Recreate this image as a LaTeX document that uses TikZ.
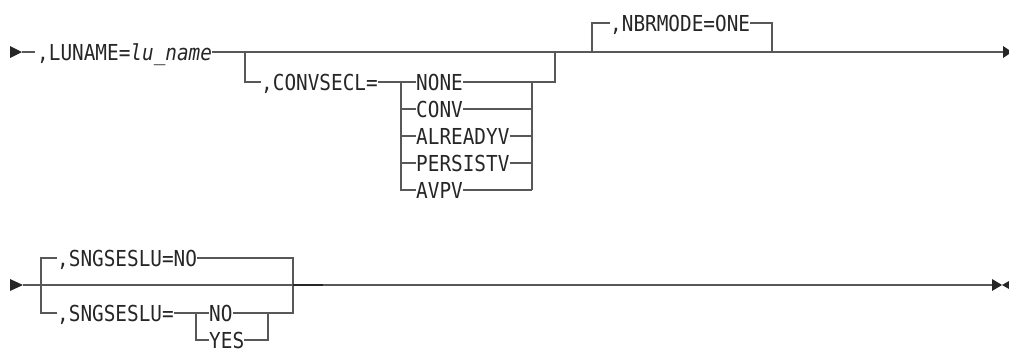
\documentclass[tikz,border=0pt]{standalone}
\usepackage{fontspec}
\newfontfamily\synfont[FakeStretch=0.88]{DejaVu Sans Mono}
\usetikzlibrary{calc}
\definecolor{railgray}{RGB}{88,88,88}
\definecolor{ink}{RGB}{38,38,38}

\begin{document}
\begin{tikzpicture}[
  x=1pt, y=-1pt,
  font=\synfont\fontsize{22pt}{24pt}\selectfont,
  rail/.style={draw=railgray, line width=1.3pt},
  kw/.style={anchor=west, inner sep=0pt, text height=16pt, text depth=0pt, text=ink},
  tip/.style={fill=ink}]
  \useasboundingbox (0,0) rectangle (1009,348);
  % first line
  \coordinate (s1) at (22,52);
  \node[kw] (lu) at (37,52) {,LUNAME=\textit{lu\_name}};
  \coordinate (b1) at (245,52);
  \coordinate (b2) at (555,52);
  \coordinate (n1) at (592,52);
  \coordinate (n2) at (772,52);
  \coordinate (e1) at (1003,52);
  \node[kw] (conv) at (261,82) {,CONVSECL=};
  \coordinate (c1) at (401,82);
  \coordinate (c2) at (532,82);
  \foreach \nm/\yy in {NONE/82, CONV/109, ALREADYV/136, PERSISTV/163, AVPV/190}
    \node[kw] (\nm) at (416,\yy) {\nm};
  \node[kw] (nbr) at (610,23) {,NBRMODE=ONE};
  \fill[tip] (10,46) -- (22,52) -- (10,58) -- cycle;
  \draw[rail] (s1) -- ([xshift=-2pt]lu.west);
  \draw[rail] (lu.east) -- (e1);
  \draw[rail] (b1) |- (conv.west);
  \draw[rail] (conv.east) -- (c1) |- (AVPV.west);
  \foreach \nm in {NONE, CONV, ALREADYV, PERSISTV, AVPV} {
    \draw[rail] (c1 |- \nm.west) -- (\nm.west);
    \draw[rail] (\nm.east) -- (c2 |- \nm.east);
  }
  \draw[rail] (c2 |- AVPV.east) -- (c2) -| (b2);
  \draw[rail] (n1) |- (nbr.west);
  \draw[rail] (nbr.east) -| (n2);
  \fill[tip] (1003,46) -- (1012,52) -- (1003,58) -- cycle;
  % second line
  \coordinate (s2) at (23,285);
  \coordinate (j1) at (41,285);
  \coordinate (j2) at (293,285);
  \coordinate (k2) at (323,285);
  \coordinate (e2) at (992,285);
  \node[kw] (sng1) at (57,258) {,SNGSESLU=NO};
  \node[kw] (sng2) at (57,313) {,SNGSESLU=};
  \coordinate (y1) at (196,313);
  \coordinate (y2) at (268,313);
  \node[kw] (no) at (209,313) {NO};
  \node[kw] (yes) at (209,340) {YES};
  \fill[tip] (10,279) -- (23,285) -- (10,291) -- cycle;
  \draw[rail] (s2) -- (j2);
  \draw[rail] (sng1.west) -| (j1) |- (sng2.west);
  \draw[rail] (sng1.east) -| (j2) |- (y2);
  \draw[rail] (sng2.east) -- (y1) -- (no.west);
  \draw[rail] (y1) |- (yes.west);
  \draw[rail] (no.east) -- (y2) |- (yes.east);
  \draw[line width=1.3pt, draw=ink] (j2) -- (k2);
  \draw[rail] (k2) -- (e2);
  \fill[tip] (992,279) -- (1002,285) -- (992,291) -- cycle;
  \fill[tip] (1009,281) -- (1002,285) -- (1009,289) -- cycle;
\end{tikzpicture}
\end{document}
